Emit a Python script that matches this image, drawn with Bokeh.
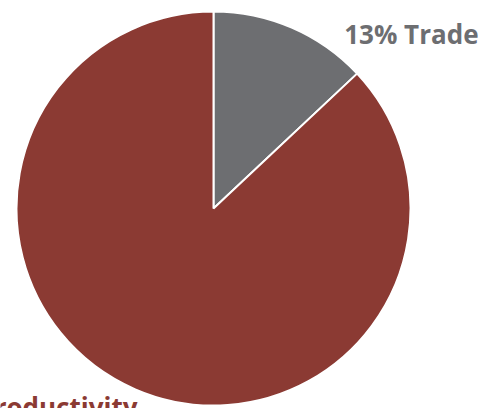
import math
from bokeh.plotting import figure
from bokeh.models import Range1d, ColumnDataSource
from bokeh.core.properties import value
from bokeh.embed import file_html
from bokeh.resources import INLINE

categories = ["Trade", "Productivity"]
shares = [13, 87]
colors = ["#6D6E71", "#8B3A33"]
labels = ["13% Trade", "87% Productivity"]

W, H = 488, 408
p = figure(width=W, height=H, output_backend="svg", toolbar_location=None,
           x_range=Range1d(0, W), y_range=Range1d(0, H), min_border=0)
p.axis.visible = False
p.grid.visible = False
p.outline_line_color = None
p.background_fill_color = "white"
p.border_fill_color = "white"

cx, cy, r = 213, 200, 197
total = sum(shares)
starts, ends = [], []
cum = 0
for s in shares:
    end = math.pi / 2 - 2 * math.pi * cum / total
    start = math.pi / 2 - 2 * math.pi * (cum + s) / total
    starts.append(start)
    ends.append(end)
    cum += s

src = ColumnDataSource(dict(x=[cx] * len(shares), y=[cy] * len(shares), start=starts, end=ends,
                            color=colors, cat=categories))
p.wedge(x="x", y="y", radius=r, start_angle="start", end_angle="end", fill_color="color",
        line_color="white", line_width=2, source=src)

lsrc = ColumnDataSource(dict(x=[478, 137], y=[375, 2], text=labels, color=colors))
p.text(x="x", y="y", text="text", text_color="color", text_align="right", text_baseline="alphabetic",
       text_font=value("Open Sans"), text_font_style="bold", text_font_size="26px", source=lsrc)

open("out.html", "w").write(file_html(p, INLINE))
